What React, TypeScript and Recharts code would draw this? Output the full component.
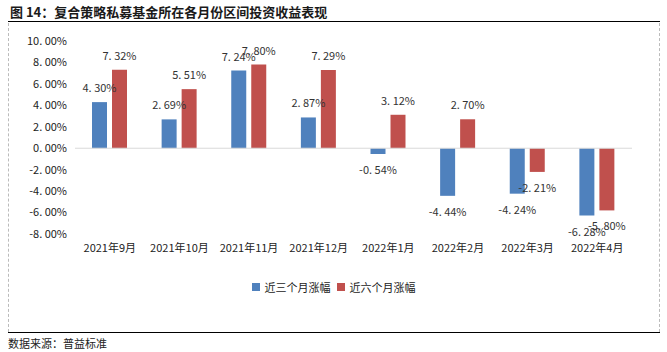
import React from "react";
import { BarChart, Bar, XAxis, YAxis, ReferenceLine, LabelList } from "recharts";

const categories = ["2021年9月", "2021年10月", "2021年11月", "2021年12月", "2022年1月", "2022年2月", "2022年3月", "2022年4月"];
const threeMonth = [4.30, 2.69, 7.24, 2.87, -0.54, -4.44, -4.24, -6.28];
const sixMonth = [7.32, 5.51, 7.80, 7.29, 3.12, 2.70, -2.21, -5.80];
const yTicks = [-8, -6, -4, -2, 0, 2, 4, 6, 8, 10];
const seriesNames = ["近三个月涨幅", "近六个月涨幅"];
const seriesColors = ["#4F81BD", "#C0504D"];

const data = categories.map((c, i) => ({ name: c, a: threeMonth[i], b: sixMonth[i] }));

const fmt = (v: number) => `${v.toFixed(2).replace(".", ". ")}%`;
const FONT = "'Noto Sans CJK SC', 'DejaVu Sans', sans-serif";

const ValueLabel = (props: any) => {
  const { x, y, width, height, value } = props;
  const top = Math.min(y, y + height);
  const bottom = Math.max(y, y + height);
  const cx = x + width / 2;
  const ty = value >= 0 ? top - 15 : bottom + 15;
  return (
    <text x={cx} y={ty} textAnchor="middle" dominantBaseline="central" fontSize={11} fill="#333" fontFamily={FONT}>
      {fmt(value)}
    </text>
  );
};

export default function App() {
  return (
    <div style={{ position: "absolute", left: 0, top: 0, width: 667, height: 352, background: "#fff", fontFamily: FONT }}>
      <div style={{ position: "absolute", left: 10, top: 2, fontSize: 13, fontWeight: 700, color: "#1a1a1a", whiteSpace: "nowrap" }}>
        图 14：复合策略私募基金所在各月份区间投资收益表现
      </div>
      <div style={{ position: "absolute", left: 8, top: 21, width: 652, height: 0, borderTop: "1.5px solid #000" }} />
      <div style={{ position: "absolute", left: 8, top: 23, width: 652, height: 309, borderLeft: "1px dashed #bbb", borderRight: "1px dashed #bbb", boxSizing: "border-box" }} />
      <div style={{ position: "absolute", left: 8, top: 332, width: 652, height: 0, borderTop: "1.5px solid #000" }} />
      <div style={{ position: "absolute", left: 8, top: 335, fontSize: 11, color: "#222", whiteSpace: "nowrap" }}>
        数据来源：普益标准
      </div>
      <div style={{ position: "absolute", left: 0, top: 0 }}>
        <BarChart width={667} height={352} data={data} margin={{ top: 41, right: 35, bottom: 88, left: 8 }} barSize={15} barGap={5}>
          <XAxis dataKey="name" height={30} axisLine={false} tickLine={false} interval={0} tick={{ fontSize: 11, fill: "#222", fontFamily: FONT }} tickMargin={4} />
          <YAxis domain={[-8, 10]} ticks={yTicks} interval={0} width={67} axisLine={false} tickLine={false} tickFormatter={fmt} tick={{ fontSize: 11, fill: "#222", fontFamily: FONT }} />
          <ReferenceLine y={0} stroke="#d9d9d9" strokeWidth={1} />
          <Bar dataKey="a" name={seriesNames[0]} fill={seriesColors[0]} isAnimationActive={false}>
            <LabelList dataKey="a" content={ValueLabel} />
          </Bar>
          <Bar dataKey="b" name={seriesNames[1]} fill={seriesColors[1]} isAnimationActive={false}>
            <LabelList dataKey="b" content={ValueLabel} />
          </Bar>
        </BarChart>
      </div>
      <div style={{ position: "absolute", left: 0, top: 279, width: 667, display: "flex", justifyContent: "center", alignItems: "center", fontSize: 11, color: "#222", whiteSpace: "nowrap" }}>
        {seriesNames.map((n, i) => (
          <span key={n} style={{ display: "inline-flex", alignItems: "center", marginRight: i === 0 ? 6 : 0 }}>
            <span style={{ display: "inline-block", width: 8, height: 8, background: seriesColors[i], marginRight: 5 }} />
            {n}
          </span>
        ))}
      </div>
    </div>
  );
}
